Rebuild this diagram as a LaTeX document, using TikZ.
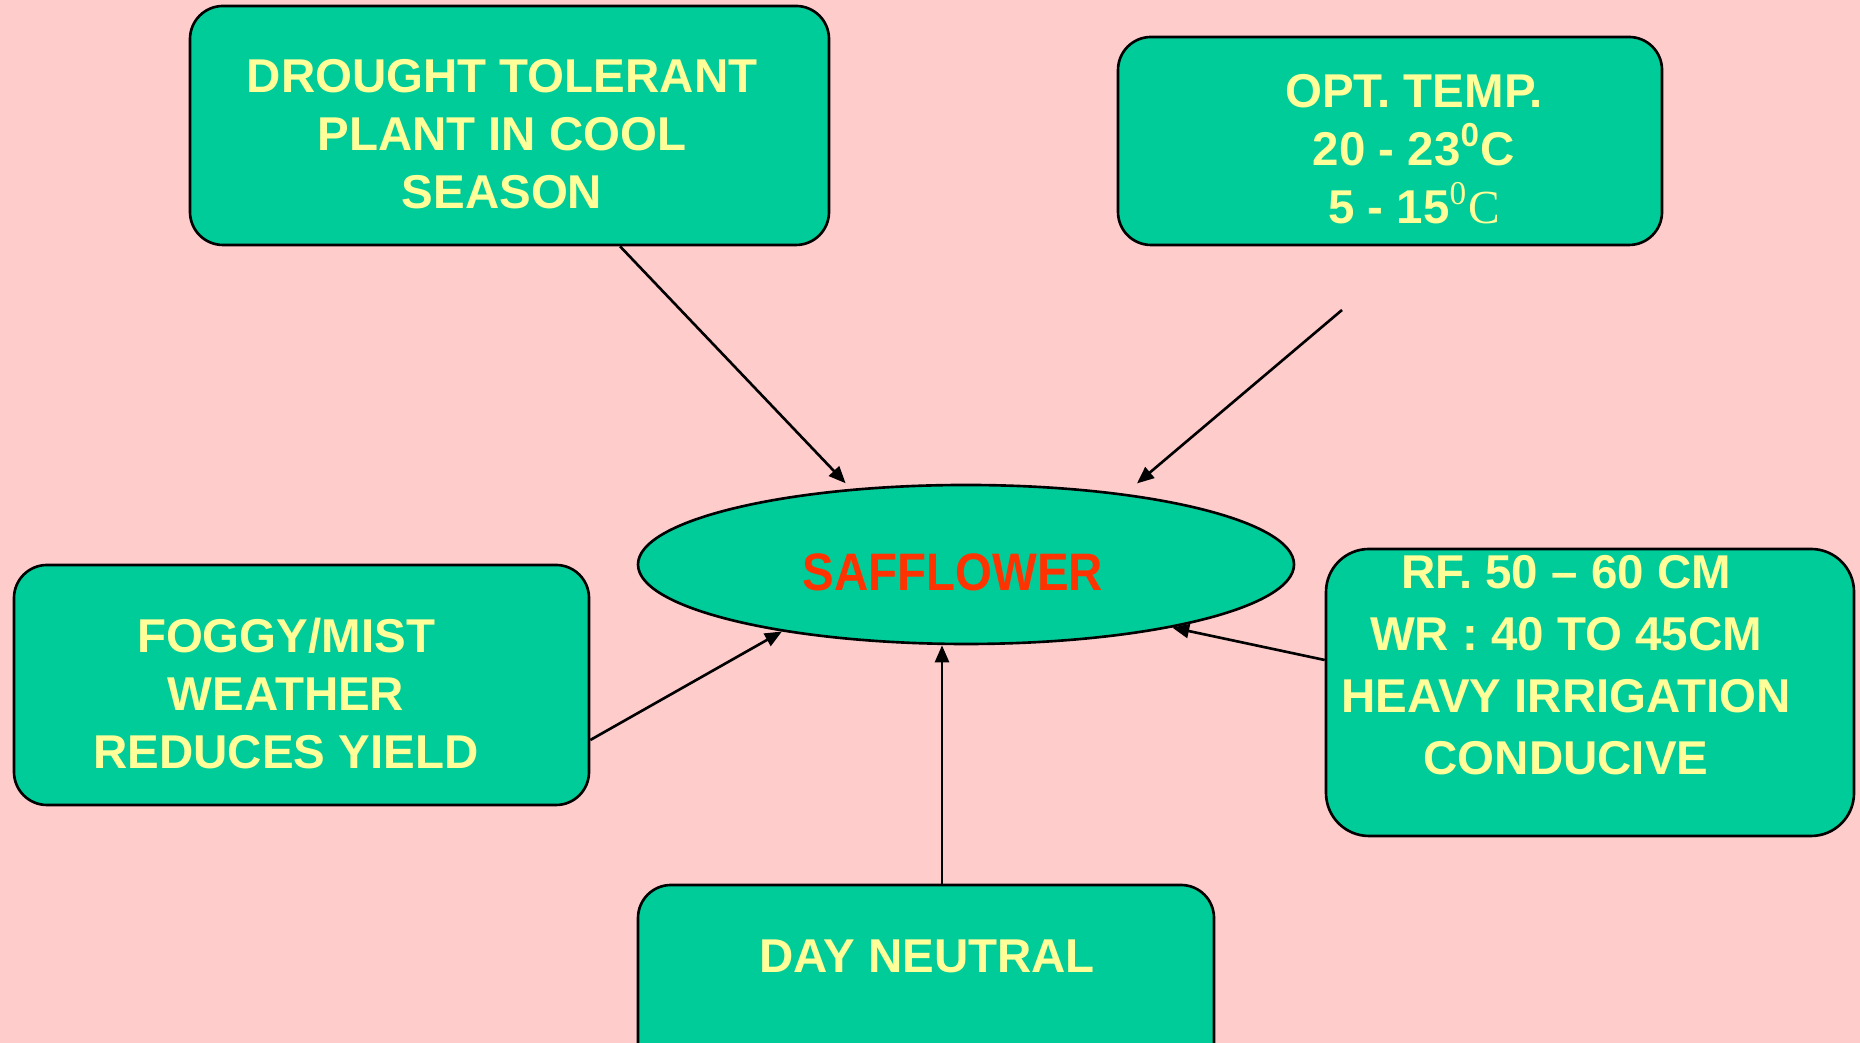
\documentclass[tikz,border=0pt]{standalone}
\usepackage{fontspec}
\setmainfont{Liberation Sans}
\newfontfamily\timesfont{Liberation Serif}
\newfontfamily\narrowfont[FakeStretch=0.9]{Liberation Sans}
\usetikzlibrary{shapes.geometric, arrows.meta, positioning}
\definecolor{bgpink}{HTML}{FFCCCC}
\definecolor{boxgreen}{HTML}{00CC99}
\definecolor{txtyellow}{HTML}{FFFF99}
\definecolor{saffred}{HTML}{FF3300}

\begin{document}
\begin{tikzpicture}[>={Triangle[length=1.7mm, width=1.4mm]}, line width=0.75pt,
  box/.style={draw, fill=boxgreen, rounded corners=3.3mm, inner sep=0pt},
  txt/.style={text=txtyellow, align=center, inner sep=0pt,
    font=\bfseries\fontsize{13.5}{16.5}\selectfont}]
  \useasboundingbox (0,0) rectangle (18.6,10.43);
  \clip (0,0) rectangle (18.6,10.43);
  \fill[bgpink] (0,0) rectangle (18.6,10.43);

  \node[box, minimum width=6.39cm, minimum height=2.39cm] (drought) at (5.095,9.175) {};
  \node[txt] (droughttxt) at (5.02,9.09) {DROUGHT TOLERANT\\PLANT IN COOL\\SEASON};

  \node[box, minimum width=5.44cm, minimum height=2.08cm] (opttemp) at (13.90,9.02) {};
  \node[txt] (opttemptxt) at (14.14,8.94) {OPT. TEMP.\\20 - 23\textsuperscript{0}C\\5 - 15{\timesfont\mdseries\textsuperscript{0}C}};

  \node[box, minimum width=5.75cm, minimum height=2.40cm] (foggy) at (3.015,3.58) {};
  \node[txt] (foggytxt) at (2.86,3.495) {FOGGY/MIST\\WEATHER\\REDUCES YIELD};

  \node[box, rounded corners=4.3mm, minimum width=5.28cm, minimum height=2.87cm] (rf) at (15.90,3.505) {};
  \node[txt, font=\bfseries\fontsize{13.5}{17.6}\selectfont] (rftxt) at (15.66,3.78) {RF. 50 -- 60 CM\\WR : 40 TO 45CM\\HEAVY IRRIGATION\\CONDUCIVE};

  \node[box, minimum width=5.76cm, minimum height=2.0cm] (dayn) at (9.26,0.58) {};
  \node[txt] (dayntxt) at (9.27,0.865) {DAY NEUTRAL};

  \node[draw, ellipse, fill=boxgreen, inner sep=0pt, minimum width=6.56cm, minimum height=1.59cm] (saff) at (9.66,4.785) {};
  \node[text=saffred, inner sep=0pt, font=\narrowfont\bfseries\fontsize{15}{18}\selectfont] (safftxt) at (9.527,4.71) {SAFFLOWER};

  \coordinate (optstart) at (13.42,7.33);

  \draw[->] ([xshift=1.105cm]drought.south) -- ([yshift=0.6mm]saff.148);
  \draw[->] (optstart) -- ([yshift=1.2mm]saff.22);
  \draw[->] ([yshift=-0.55cm]foggy.east) -- (saff.200);
  \draw[->] ([xshift=0.16cm]dayn.north) -- ([xshift=0.16cm]dayn.north |- saff.south);
  \draw[->] ([yshift=0.325cm]rf.west) -- (saff.-17);
\end{tikzpicture}
\end{document}
